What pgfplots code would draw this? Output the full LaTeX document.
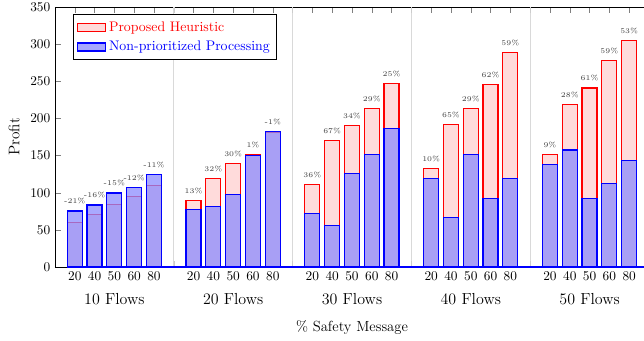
\documentclass[border=0pt]{standalone}
\usepackage{pgfplots}
\pgfplotsset{compat=1.18}
\usetikzlibrary{calc}
\pgfplotsset{mylegend/.style={legend image code/.code={\draw[##1] (0pt,-3pt) rectangle (21pt,3pt);}}}
\begin{document}
\begin{tikzpicture}
\begin{axis}[name=ax, scale only axis, width=445.5pt, height=195pt,
  xmin=-1, xmax=29, ymin=0, ymax=350,
  xtick={0,1,2,3,4,6,7,8,9,10,12,13,14,15,16,18,19,20,21,22,24,25,26,27,28},
  xticklabels={20,40,50,60,80,20,40,50,60,80,20,40,50,60,80,20,40,50,60,80,20,40,50,60,80},
  ytick={0,50,...,350}, ytick pos=left,
  tick label style={font=\fontsize{10}{12}\selectfont},
  extra x ticks={5,11,17,23}, extra x tick labels={},
  extra x tick style={grid=major, major grid style={gray!30, line width=0.5pt}, tick style={gray!40}},
  legend style={at={(axis description cs:0.0298,0.972)}, anchor=north west, draw=black, line width=0.8pt,
    font=\fontsize{10.4}{12.5}\selectfont, inner xsep=3pt, inner ysep=3pt, row sep=2pt},
  legend cell align=left,
  clip=false,
]
\addplot[ybar, bar width=11.25pt, bar shift=0pt, draw=red, line width=0.9pt, fill=red!14, mylegend]
  coordinates {(0,60) (1,70.5) (2,84.5) (3,94.5) (4,110)
               (6,89.5) (7,119.5) (8,139.5) (9,151) (10,181.5)
               (12,111.5) (13,170.5) (14,190) (15,213.5) (16,247)
               (18,132.5) (19,191.5) (20,213) (21,245.5) (22,288.5)
               (24,151) (25,218.5) (26,241) (27,278) (28,305)};
\addlegendentry{\textcolor{red}{Proposed Heuristic}}
\addplot[ybar, bar width=11.25pt, bar shift=0pt, draw=blue, line width=0.9pt, fill=blue!45, fill opacity=0.75, mylegend]
  coordinates {(0,75.5) (1,83.5) (2,99.5) (3,107.5) (4,124)
               (6,77.5) (7,81.5) (8,98) (9,150) (10,182.5)
               (12,71.5) (13,56) (14,126) (15,151.5) (16,186.5)
               (18,119.5) (19,66.5) (20,151.5) (21,92.5) (22,119)
               (24,138) (25,157.5) (26,92.5) (27,112.5) (28,143.5)};
\addlegendentry{\textcolor{blue}{Non-prioritized Processing}}
\addplot[blue, line width=0.9pt, sharp plot, mark=none, forget plot] coordinates {(-0.4,0) (29,0)};
\addplot[draw=none, mark=none, forget plot, nodes near coords={\pgfplotspointmeta\%}, point meta=explicit symbolic,
  every node near coord/.append style={font=\fontsize{5.45}{6}\selectfont, text=black!75, yshift=1.5pt}]
  coordinates {(0,75.5) [-21] (1,83.5) [-16] (2,99.5) [-15] (3,107.5) [-12] (4,124) [-11]
               (6,89.5) [13] (7,119.5) [32] (8,139.5) [30] (9,151) [1] (10,182.5) [-1]
               (12,111.5) [36] (13,170.5) [67] (14,190) [34] (15,213.5) [29] (16,247) [25]
               (18,132.5) [10] (19,191.5) [65] (20,213) [29] (21,245.5) [62] (22,288.5) [59]
               (24,151) [9] (25,218.5) [28] (26,241) [61] (27,278) [59] (28,305) [53]};
\node[anchor=base, font=\fontsize{12}{14}\selectfont, yshift=-27.75pt] at (axis cs:2,0) {10 Flows};
\node[anchor=base, font=\fontsize{12}{14}\selectfont, yshift=-27.75pt] at (axis cs:8,0) {20 Flows};
\node[anchor=base, font=\fontsize{12}{14}\selectfont, yshift=-27.75pt] at (axis cs:14,0) {30 Flows};
\node[anchor=base, font=\fontsize{12}{14}\selectfont, yshift=-27.75pt] at (axis cs:20,0) {40 Flows};
\node[anchor=base, font=\fontsize{12}{14}\selectfont, yshift=-27.75pt] at (axis cs:26,0) {50 Flows};
\node[anchor=base, font=\fontsize{11}{13}\selectfont, yshift=-48.5pt] at (axis cs:14,0) {\% Safety Message};
\node[rotate=90, anchor=center, font=\fontsize{11.5}{13}\selectfont] at (axis description cs:-0.069,0.5) {Profit};
\end{axis}
\pgfresetboundingbox
\path[use as bounding box] ($(ax.south west)+(-41.25pt,-54.75pt)$) rectangle ($(ax.south west)+(441.75pt,200.25pt)$);
\end{tikzpicture}
\end{document}
